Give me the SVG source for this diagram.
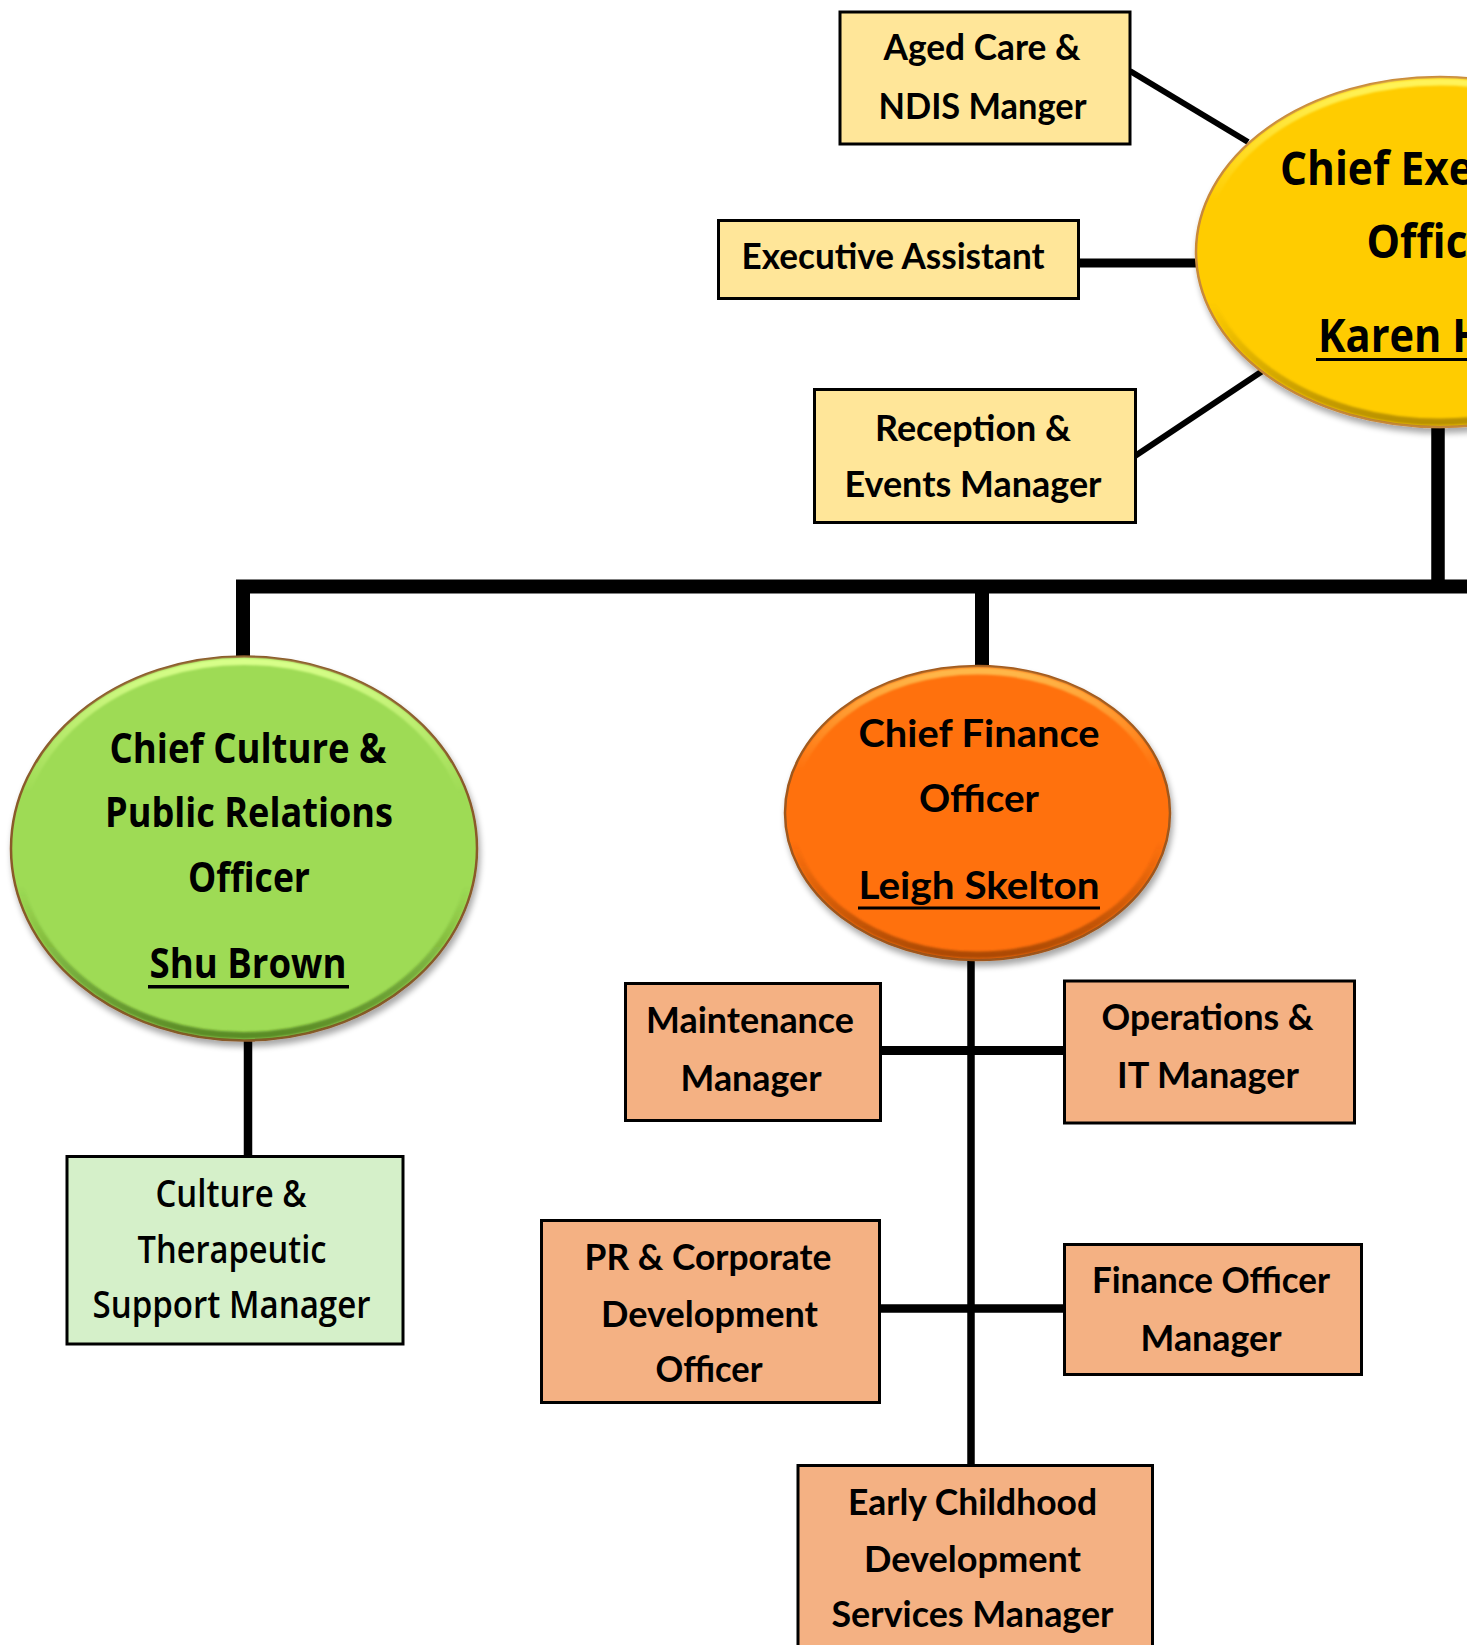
<svg xmlns="http://www.w3.org/2000/svg" width="1467" height="1645" viewBox="0 0 1467 1645">
<style>
.conn{stroke:#000;fill:none;stroke-linecap:butt;stroke-linejoin:miter}
.box{stroke:#000;stroke-width:3}
.yel{fill:#FFE699}
.org{fill:#F4B183}
.grn{fill:#D5F0C9}
.t{font-family:Lato,"Liberation Sans",sans-serif;font-weight:700;fill:#000;text-anchor:middle}
.o{font-family:"Open Sans","Liberation Sans",sans-serif;font-weight:700;fill:#000;text-anchor:middle}
.os{font-family:"Open Sans","Liberation Sans",sans-serif;font-weight:600;fill:#000;text-anchor:middle}
.ul{fill:#000}
</style>
<defs>
<filter id="sh" x="-10%" y="-10%" width="130%" height="130%">
<feGaussianBlur in="SourceAlpha" stdDeviation="3"/>
<feOffset dx="2" dy="5" result="b"/>
<feComponentTransfer><feFuncA type="linear" slope="0.35"/></feComponentTransfer>
<feMerge><feMergeNode/><feMergeNode in="SourceGraphic"/></feMerge>
</filter>
<filter id="bl"><feGaussianBlur stdDeviation="1.2"/></filter>
<linearGradient id="bvY" x1="0" y1="0" x2="0" y2="1">
<stop offset="0" stop-color="#FFF45A" stop-opacity="1"/>
<stop offset="0.35" stop-color="#FFF45A" stop-opacity="0"/>
<stop offset="0.65" stop-color="#8A6A00" stop-opacity="0"/>
<stop offset="1" stop-color="#8A6A00" stop-opacity="0.6"/>
</linearGradient>
<linearGradient id="bvG" x1="0" y1="0" x2="0" y2="1">
<stop offset="0" stop-color="#D8FF8A" stop-opacity="1"/>
<stop offset="0.35" stop-color="#D8FF8A" stop-opacity="0"/>
<stop offset="0.6" stop-color="#3E6A14" stop-opacity="0"/>
<stop offset="1" stop-color="#3E6A14" stop-opacity="0.7"/>
</linearGradient>
<linearGradient id="bvO" x1="0" y1="0" x2="0" y2="1">
<stop offset="0" stop-color="#FFB84A" stop-opacity="1"/>
<stop offset="0.35" stop-color="#FFB84A" stop-opacity="0"/>
<stop offset="0.6" stop-color="#8A3A00" stop-opacity="0"/>
<stop offset="1" stop-color="#8A3A00" stop-opacity="0.7"/>
</linearGradient>
</defs>
<rect width="1467" height="1645" fill="#fff"/>

<g id="connectors">
<line class="conn" x1="1130" y1="71" x2="1248" y2="142" stroke-width="6"/>
<line class="conn" x1="1079" y1="263" x2="1200" y2="263" stroke-width="9"/>
<line class="conn" x1="1135" y1="456" x2="1264" y2="370" stroke-width="6"/>
<line class="conn" x1="1438" y1="420" x2="1438" y2="593" stroke-width="13.5"/>
<path class="conn" d="M243 665 V586.5 H1467" stroke-width="14"/>
<line class="conn" x1="982" y1="586" x2="982" y2="668" stroke-width="14"/>
<line class="conn" x1="248" y1="1036" x2="248" y2="1156" stroke-width="8.5"/>
<line class="conn" x1="971" y1="958" x2="971" y2="1466" stroke-width="7.5"/>
<line class="conn" x1="881" y1="1050.5" x2="1064" y2="1050.5" stroke-width="9"/>
<line class="conn" x1="880" y1="1308.5" x2="1064" y2="1308.5" stroke-width="8.5"/>
</g>

<g id="aged-care">
<rect class="box yel" x="840" y="12" width="290" height="132"/>
<text class="t" x="982" y="60" font-size="36" textLength="197" lengthAdjust="spacingAndGlyphs">Aged Care &amp;</text>
<text class="t" x="982.5" y="119" font-size="36" textLength="208" lengthAdjust="spacingAndGlyphs">NDIS Manger</text>
</g>

<g id="executive-assistant">
<rect class="box yel" x="718.5" y="220.5" width="360" height="78"/>
<text class="t" x="893" y="269" font-size="36" textLength="303" lengthAdjust="spacingAndGlyphs">Executive Assistant</text>
</g>

<g id="reception">
<rect class="box yel" x="814.5" y="389.5" width="321" height="133"/>
<text class="t" x="973" y="440.5" font-size="37" textLength="196" lengthAdjust="spacingAndGlyphs">Reception &amp;</text>
<text class="t" x="973" y="496.5" font-size="37" textLength="257" lengthAdjust="spacingAndGlyphs">Events Manager</text>
</g>

<g id="ceo">
<ellipse cx="1440" cy="252" rx="244" ry="175" fill="#FFCC00" stroke="#C8893A" stroke-width="2.5" filter="url(#sh)"/>
<ellipse cx="1440" cy="252" rx="239" ry="170" fill="none" stroke="url(#bvY)" stroke-width="7" filter="url(#bl)"/>
<text class="o" x="1280" y="184.5" font-size="46" text-anchor="start" style="text-anchor:start" textLength="324" lengthAdjust="spacingAndGlyphs">Chief Executive</text>
<text class="o" x="1366.5" y="258" font-size="46" style="text-anchor:start" textLength="145" lengthAdjust="spacingAndGlyphs">Officer</text>
<text class="o" x="1318" y="351.5" font-size="46" style="text-anchor:start" textLength="166" lengthAdjust="spacingAndGlyphs">Karen H</text>
<rect class="ul" x="1316" y="358" width="151" height="3"/>
</g>

<g id="cco">
<ellipse cx="244" cy="848.5" rx="233" ry="192" fill="#9EDB55" stroke="#8A5A2A" stroke-width="2.5" filter="url(#sh)"/>
<ellipse cx="244" cy="848.5" rx="228" ry="187" fill="none" stroke="url(#bvG)" stroke-width="7" filter="url(#bl)"/>
<text class="o" x="248" y="763" font-size="42" textLength="277" lengthAdjust="spacingAndGlyphs">Chief Culture &amp;</text>
<text class="o" x="249" y="827" font-size="42" textLength="288" lengthAdjust="spacingAndGlyphs">Public Relations</text>
<text class="o" x="249" y="892" font-size="42" textLength="122" lengthAdjust="spacingAndGlyphs">Officer</text>
<text class="o" x="248" y="978" font-size="42" textLength="197" lengthAdjust="spacingAndGlyphs">Shu Brown</text>
<rect class="ul" x="148" y="985" width="201" height="3.5"/>
</g>

<g id="cfo">
<ellipse cx="977.5" cy="813" rx="192.5" ry="147" fill="#FF710C" stroke="#A0581F" stroke-width="2.5" filter="url(#sh)"/>
<ellipse cx="977.5" cy="813" rx="187.5" ry="142" fill="none" stroke="url(#bvO)" stroke-width="7" filter="url(#bl)"/>
<text class="t" x="979" y="747" font-size="38" textLength="241" lengthAdjust="spacingAndGlyphs">Chief Finance</text>
<text class="t" x="979" y="812" font-size="38" textLength="120" lengthAdjust="spacingAndGlyphs">Officer</text>
<text class="t" x="979" y="899" font-size="38" textLength="241" lengthAdjust="spacingAndGlyphs">Leigh Skelton</text>
<rect class="ul" x="858" y="906.5" width="242" height="3"/>
</g>

<g id="culture-therapeutic">
<rect class="box grn" x="67" y="1156.5" width="336" height="187.5"/>
<text class="os" x="231" y="1206.5" font-size="38" textLength="151" lengthAdjust="spacingAndGlyphs">Culture &amp;</text>
<text class="os" x="232" y="1263" font-size="38" textLength="189" lengthAdjust="spacingAndGlyphs">Therapeutic</text>
<text class="os" x="231.5" y="1318" font-size="38" textLength="278" lengthAdjust="spacingAndGlyphs">Support Manager</text>
</g>

<g id="maintenance">
<rect class="box org" x="625.5" y="983.5" width="255" height="137"/>
<text class="t" x="750" y="1033" font-size="37" textLength="208" lengthAdjust="spacingAndGlyphs">Maintenance</text>
<text class="t" x="751" y="1091" font-size="37" textLength="141" lengthAdjust="spacingAndGlyphs">Manager</text>
</g>

<g id="operations-it">
<rect class="box org" x="1064.5" y="981" width="290" height="142"/>
<text class="t" x="1207.5" y="1030" font-size="37" textLength="212" lengthAdjust="spacingAndGlyphs">Operations &amp;</text>
<text class="t" x="1208" y="1088" font-size="37" textLength="182" lengthAdjust="spacingAndGlyphs">IT Manager</text>
</g>

<g id="pr-corporate">
<rect class="box org" x="541.5" y="1220.5" width="338" height="182"/>
<text class="t" x="708" y="1270" font-size="37" textLength="247" lengthAdjust="spacingAndGlyphs">PR &amp; Corporate</text>
<text class="t" x="709.5" y="1326.5" font-size="37" textLength="217" lengthAdjust="spacingAndGlyphs">Development</text>
<text class="t" x="709" y="1381.5" font-size="37" textLength="107" lengthAdjust="spacingAndGlyphs">Officer</text>
</g>

<g id="finance-officer">
<rect class="box org" x="1064.5" y="1244.5" width="297" height="130"/>
<text class="t" x="1211" y="1293" font-size="36" textLength="238" lengthAdjust="spacingAndGlyphs">Finance Officer</text>
<text class="t" x="1211" y="1350.5" font-size="36" textLength="141" lengthAdjust="spacingAndGlyphs">Manager</text>
</g>

<g id="early-childhood">
<rect class="box org" x="798" y="1465.5" width="354.5" height="260"/>
<text class="t" x="972.5" y="1515" font-size="36" textLength="249" lengthAdjust="spacingAndGlyphs">Early Childhood</text>
<text class="t" x="972.5" y="1571.5" font-size="36" textLength="217" lengthAdjust="spacingAndGlyphs">Development</text>
<text class="t" x="972.5" y="1626.5" font-size="36" textLength="282" lengthAdjust="spacingAndGlyphs">Services Manager</text>
</g>
</svg>
